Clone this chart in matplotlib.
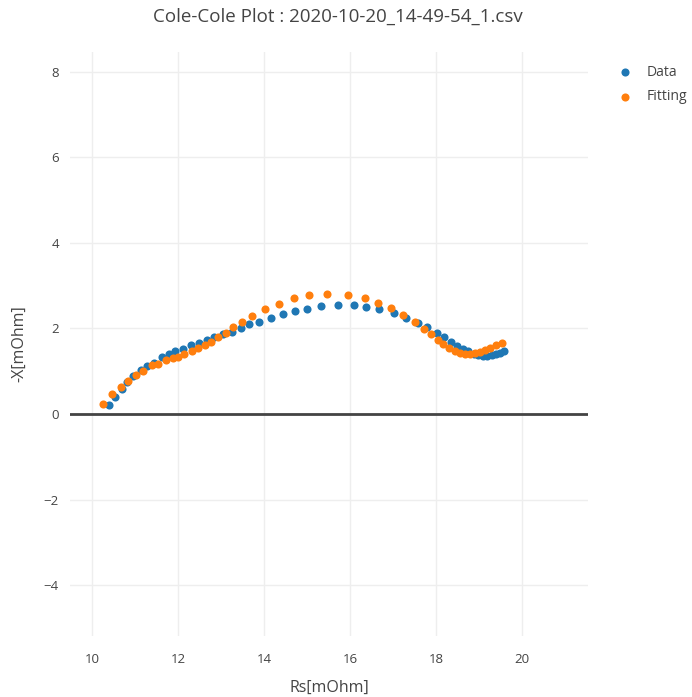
import matplotlib
matplotlib.use("Agg")
import matplotlib.pyplot as plt

# Cole-Cole plot: measured impedance vs fitted model
data_rs = [10.40, 10.53, 10.69, 10.82, 10.96, 11.14, 11.29, 11.44, 11.62, 11.80,
           11.93, 12.11, 12.30, 12.49, 12.67, 12.84, 13.05, 13.25, 13.47, 13.66,
           13.89, 14.16, 14.45, 14.72, 14.99, 15.32, 15.73, 16.09, 16.38, 16.68,
           17.01, 17.31, 17.58, 17.78, 18.01, 18.18, 18.34, 18.48, 18.62, 18.75,
           18.87, 18.98, 19.10, 19.19, 19.29, 19.40, 19.49, 19.58]
data_x = [0.21, 0.40, 0.59, 0.74, 0.89, 1.03, 1.13, 1.20, 1.32, 1.39,
          1.46, 1.52, 1.61, 1.67, 1.73, 1.79, 1.86, 1.92, 2.02, 2.10,
          2.16, 2.25, 2.34, 2.41, 2.46, 2.52, 2.55, 2.54, 2.51, 2.45,
          2.35, 2.24, 2.12, 2.03, 1.90, 1.79, 1.68, 1.59, 1.52, 1.46,
          1.40, 1.37, 1.36, 1.36, 1.37, 1.40, 1.43, 1.48]

fit_rs = [10.26, 10.47, 10.67, 10.84, 11.02, 11.19, 11.39, 11.53, 11.72, 11.88,
          12.01, 12.15, 12.32, 12.47, 12.63, 12.77, 12.94, 13.12, 13.29, 13.48,
          13.71, 14.02, 14.34, 14.70, 15.04, 15.46, 15.95, 16.35, 16.64, 16.95,
          17.24, 17.50, 17.71, 17.88, 18.04, 18.17, 18.31, 18.44, 18.56, 18.67,
          18.79, 18.91, 19.02, 19.14, 19.26, 19.40, 19.53]
fit_x = [0.23, 0.46, 0.64, 0.78, 0.91, 1.01, 1.14, 1.17, 1.25, 1.30,
         1.34, 1.41, 1.48, 1.53, 1.61, 1.69, 1.79, 1.89, 2.03, 2.14,
         2.29, 2.45, 2.58, 2.70, 2.77, 2.80, 2.77, 2.70, 2.60, 2.47,
         2.31, 2.14, 1.99, 1.86, 1.73, 1.64, 1.53, 1.46, 1.42, 1.40,
         1.40, 1.42, 1.44, 1.50, 1.53, 1.60, 1.67]

x_ticks = [10, 12, 14, 16, 18, 20]
y_ticks = [-4, -2, 0, 2, 4, 6, 8]

plt.rcParams['font.family'] = ['Open Sans', 'DejaVu Sans']
txt = '#444444'

fig = plt.figure(figsize=(6.92, 6.97), dpi=100)
ax = fig.add_axes([70 / 692, 61 / 697, 518 / 692, 584 / 697])

ax.scatter(data_rs, data_x, s=34, color='#1f77b4', linewidths=0, label='Data', zorder=3)
ax.scatter(fit_rs, fit_x, s=34, color='#ff7f0e', linewidths=0, label='Fitting', zorder=4)

ax.set_xlim(9.49, 21.53)
ax.set_ylim(-5.19, 8.46)
ax.set_xticks(x_ticks)
ax.set_yticks(y_ticks)
ax.grid(True, color='#eeeeee', linewidth=1)
ax.set_axisbelow(True)
ax.axhline(0, color='#444444', linewidth=2, zorder=2)
for s in ax.spines.values():
    s.set_visible(False)
ax.tick_params(axis='x', length=0, labelsize=9.5, labelcolor=txt, pad=12)
ax.tick_params(axis='y', length=0, labelsize=9.5, labelcolor=txt, pad=8)

ax.set_ylabel('-X[mOhm]', fontsize=11.5, color=txt, labelpad=12)
fig.text(329 / 692, 1 - 688 / 697, 'Rs[mOhm]', ha='center', va='center',
         fontsize=11.5, color=txt)
fig.text(338 / 692, 1 - 17 / 697, 'Cole-Cole Plot : 2020-10-20_14-49-54_1.csv',
         ha='center', va='center', fontsize=13.5, color=txt)

leg = ax.legend(loc='upper left', bbox_to_anchor=(1.02, 1.0), frameon=False,
                fontsize=10, labelcolor=txt, handletextpad=0.6, borderaxespad=0.5,
                labelspacing=0.7)

fig.savefig('out.png', dpi=100)
